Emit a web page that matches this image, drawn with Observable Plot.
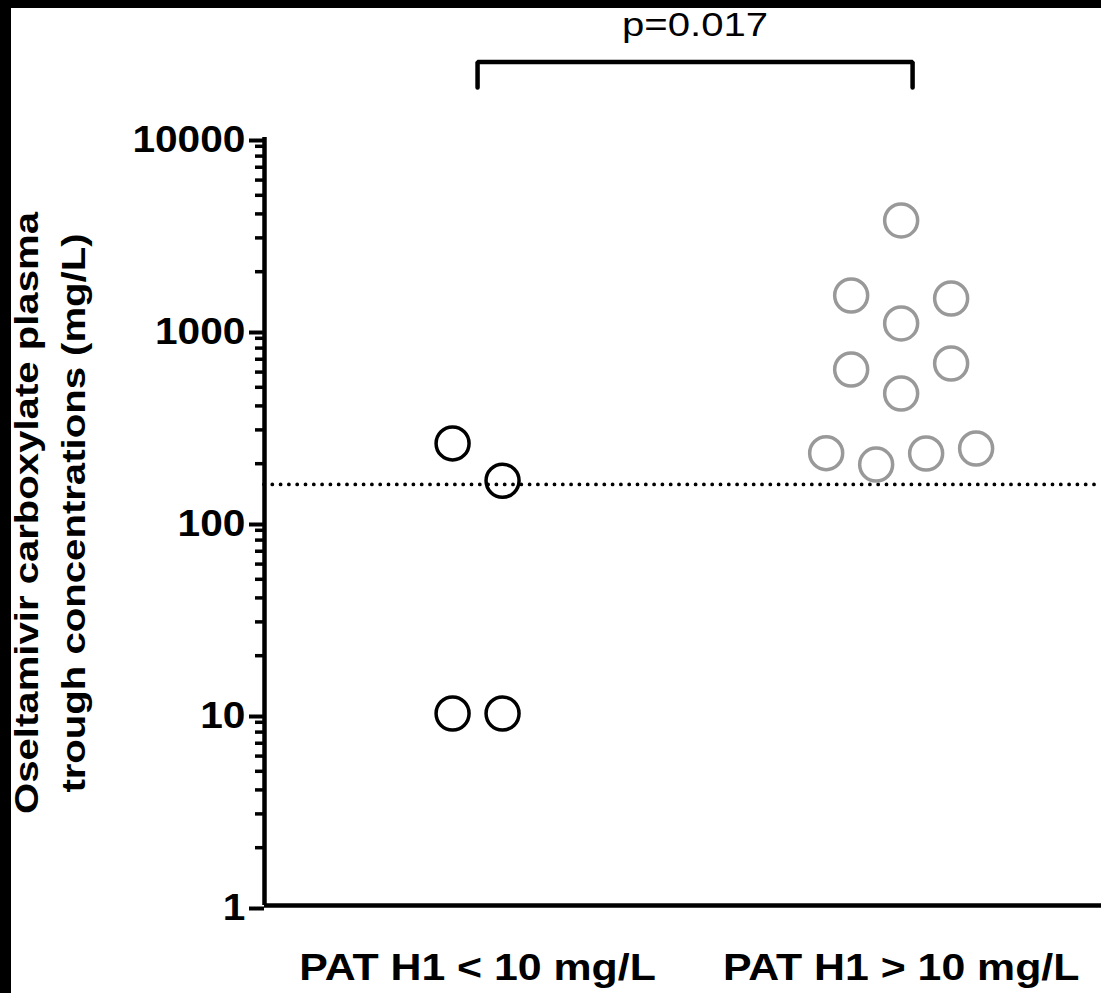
<!DOCTYPE html>
<html><head><meta charset="utf-8">
<script src="https://cdn.jsdelivr.net/npm/d3@7"></script>
<script src="https://cdn.jsdelivr.net/npm/@observablehq/plot@0.6"></script>
<style>
html,body{margin:0;padding:0;background:#fff;}
#wrap{position:relative;width:1101px;height:993px;overflow:hidden;background:#fff;}
.bar{position:absolute;background:#000;pointer-events:none;}
</style></head><body>
<div id="wrap"><div id="chart"></div>
<div class="bar" style="left:0;top:0;width:1101px;height:8px"></div>
<div class="bar" style="left:0;top:0;width:11px;height:993px"></div>
</div>
<script>
// ---- data ----
const groups = ["PAT H1 < 10 mg/L", "PAT H1 > 10 mg/L"];
const lowValues = [255, 163, 10, 10];
const lowSlots = [-1, 1, -1, 1];
const highValues = [3698, 1503, 1450, 1075, 619, 665, 464, 227, 198, 226, 240];
const highSlots = [0, -2, 2, 0, -2, 2, 0, -3, -1, 1, 3];
const threshold = 156;
const majorTicks = [1, 10, 100, 1000, 10000];
const minorTicks = [2,3,4,5,6,7,8,9,20,30,40,50,60,70,80,90,200,300,400,500,600,700,800,900,2000,3000,4000,5000,6000,7000,8000,9000];
const yTitle = "Oseltamivir carboxylate plasma\ntrough concentrations (mg/L)";
const pLabel = "p=0.017";
const bracketX = [0, 1.027];
const bracketTop = 24700, bracketTip = 18200, pLabelY = 38300;

// ---- layout helpers ----
const slotWidth = 0.059;
const xDomain = [-0.503, 1.473];
const lowPts = lowValues.map((v, i) => ({x: 0 + lowSlots[i] * slotWidth, y: v}));
const highPts = highValues.map((v, i) => ({x: 1 + highSlots[i] * slotWidth, y: v}));
const bracket = [
  {x: bracketX[0], y: bracketTip}, {x: bracketX[0], y: bracketTop},
  {x: bracketX[1], y: bracketTop}, {x: bracketX[1], y: bracketTip}
];

const chart = Plot.plot({
  width: 1101, height: 993,
  marginLeft: 264, marginRight: 0, marginTop: 137, marginBottom: 88,
  style: {fontFamily: "'Liberation Sans', Arial, sans-serif", background: "white", color: "black", overflow: "visible"},
  x: {domain: xDomain, axis: null},
  y: {type: "log", domain: [1, 10000], axis: null},
  marks: [
    Plot.ruleY([threshold], {stroke: "black", strokeWidth: 3.8, strokeDasharray: "0,8.3", strokeLinecap: "round"}),
    Plot.axisY({ticks: minorTicks, tickSize: 9, tickFormat: () => "", strokeWidth: 3.5, label: null}),
    Plot.axisY({ticks: majorTicks, tickSize: 15, tickPadding: 4, tickFormat: d => String(d), strokeWidth: 4, fontSize: 36, fontWeight: "bold", dy: 3, label: null}),
    Plot.ruleX([xDomain[0]], {y1: 1, y2: 10000, strokeWidth: 4.5}),
    Plot.ruleY([1], {strokeWidth: 4.5}),
    Plot.axisX({ticks: [0, 1], tickFormat: i => groups[i], tickSize: 0, tickPadding: 49, fontSize: 36, fontWeight: "bold", label: null}),
    Plot.dot(lowPts, {x: "x", y: "y", r: 16.5, stroke: "#000", strokeWidth: 3.5, fill: "none"}),
    Plot.dot(highPts, {x: "x", y: "y", r: 16.5, stroke: "#999999", strokeWidth: 3.5, fill: "none"}),
    Plot.line(bracket, {x: "x", y: "y", strokeWidth: 4.5, strokeLinecap: "round", strokeLinejoin: "miter"}),
    Plot.text([pLabel], {x: d3.mean(bracketX), y: pLabelY, fontSize: 34, textAnchor: "middle", className: "s118"}),
    Plot.text([yTitle], {frameAnchor: "left", dx: -218, dy: -8.5, rotate: -90, fontSize: 34, fontWeight: "bold", lineHeight: 1.38, textAnchor: "middle", className: "s118"})
  ]
});

// horizontal glyph stretch (reference text is wider than Arial metrics)
chart.querySelectorAll("text").forEach(t => {
  const S = t.closest(".s118") ? 1.18 : 1.13;
  const tr = t.getAttribute("transform");
  if (tr) t.setAttribute("transform", tr + ` scale(${S},1)`);
  else {
    const x = parseFloat(t.getAttribute("x")) || 0;
    t.setAttribute("transform", `translate(${x},0) scale(${S},1) translate(${-x},0)`);
  }
});
// x labels a little wider still
chart.querySelectorAll("g[aria-label='x-axis tick label'] text").forEach(t => {
  t.setAttribute("transform", t.getAttribute("transform").replace("scale(1.13,1)", "scale(1.19,1)"));
});
document.getElementById("chart").appendChild(chart);
</script>
</body></html>
